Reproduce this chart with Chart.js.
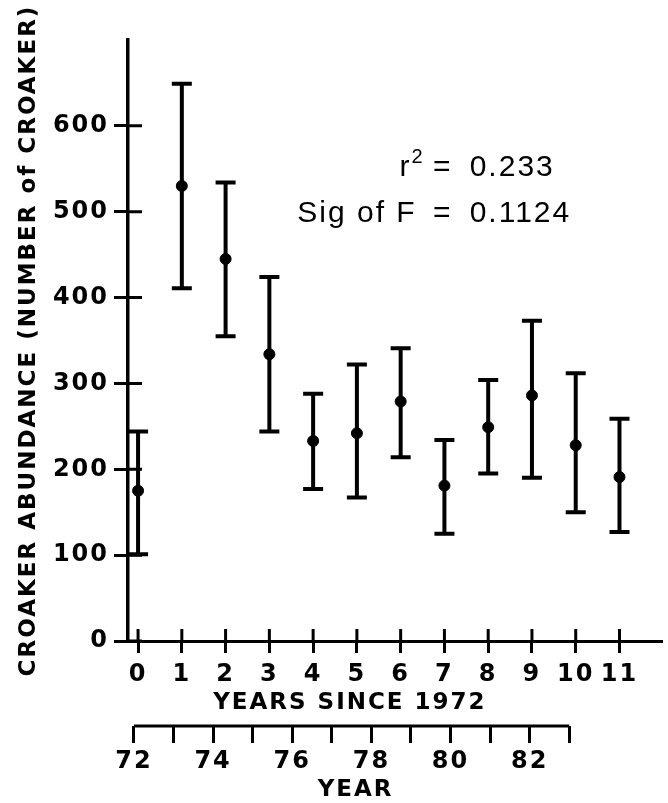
<!DOCTYPE html>
<html>
<head>
<meta charset="utf-8">
<script src="https://cdn.jsdelivr.net/npm/chart.js@4.4.1/dist/chart.umd.min.js"></script>
<style>
  html, body { margin: 0; padding: 0; background: #fff; }
</style>
</head>
<body>
<canvas id="myChart" width="668" height="803"></canvas>
<script>
// datos
const yearsSince = [0, 1, 2, 3, 4, 5, 6, 7, 8, 9, 10, 11];
const abundance  = [175, 530, 445, 334, 233, 242, 279, 181, 249, 286, 228, 191];
const upperBar   = [244, 649, 534, 424, 288, 322, 341, 234, 304, 373, 312, 259];
const lowerBar   = [101, 411, 355, 244, 177, 167, 214, 125, 195, 190, 150, 127];
const yTicks     = [0, 100, 200, 300, 400, 500, 600];
const yearTicks  = [72, 73, 74, 75, 76, 77, 78, 79, 80, 81, 82, 83];
const yearLabels = ['72', '', '74', '', '76', '', '78', '', '80', '', '82', ''];

const negro = '#000';
const fuente = 'DejaVu Sans';

// barras de error, marcas que cruzan los ejes y textos
const extras = {
    id: 'extras',
    beforeDraw(chart) {
        chart.ctx.letterSpacing = '2px';
    },
    beforeDatasetsDraw(chart) {
        const ctx = chart.ctx;
        const x = chart.scales.x, y = chart.scales.y;
        ctx.save();
        ctx.strokeStyle = negro;
        ctx.lineWidth = 4;
        for (let i = 0; i < yearsSince.length; i++) {
            const px = x.getPixelForValue(yearsSince[i]);
            const yt = y.getPixelForValue(upperBar[i]);
            const yb = y.getPixelForValue(lowerBar[i]);
            ctx.beginPath();
            ctx.moveTo(px, yt); ctx.lineTo(px, yb);
            ctx.moveTo(px - 10, yt); ctx.lineTo(px + 10, yt);
            ctx.moveTo(px - 10, yb); ctx.lineTo(px + 10, yb);
            ctx.stroke();
        }
        ctx.restore();
    },
    afterDraw(chart) {
        const ctx = chart.ctx;
        const x = chart.scales.x, y = chart.scales.y, x2 = chart.scales.x2;
        ctx.save();
        ctx.strokeStyle = negro;
        ctx.lineWidth = 3;
        ctx.beginPath();
        // parte interior de las marcas
        yearsSince.forEach(v => {
            const px = x.getPixelForValue(v);
            ctx.moveTo(px, x.top); ctx.lineTo(px, x.top - 12);
        });
        yTicks.forEach(v => {
            const py = y.getPixelForValue(v);
            ctx.moveTo(y.right, py); ctx.lineTo(y.right + 14, py);
        });
        // eje de años
        ctx.moveTo(x2.getPixelForValue(yearTicks[0]), x2.top);
        ctx.lineTo(x2.getPixelForValue(yearTicks[yearTicks.length - 1]), x2.top);
        ctx.stroke();

        // titulos de los ejes x
        ctx.fillStyle = negro;
        ctx.font = 'bold 23px "DejaVu Sans"';
        ctx.textAlign = 'center';
        ctx.textBaseline = 'middle';
        ctx.fillText('YEARS SINCE 1972', x.getPixelForValue(4.84), x.bottom - 23);
        ctx.fillText('YEAR', x2.getPixelForValue(77.6), x2.bottom - 13);

        // texto r2 y Sig of F
        const eqX = x.getPixelForValue(6.96);
        const y1 = y.getPixelForValue(542);
        const y2 = y.getPixelForValue(488);
        ctx.textBaseline = 'alphabetic';
        ctx.font = '30px "Liberation Sans"';
        ctx.textAlign = 'center';
        ctx.fillText('=', eqX, y1);
        ctx.fillText('=', eqX, y2);
        ctx.textAlign = 'left';
        ctx.fillText('0.233', eqX + 27, y1);
        ctx.fillText('0.1124', eqX + 27, y2);
        ctx.textAlign = 'right';
        ctx.fillText('Sig of F', eqX - 26, y2);
        ctx.font = '20px "Liberation Sans"';
        const w2 = ctx.measureText('2').width;
        ctx.fillText('2', eqX - 18, y1 - 13);
        ctx.font = '30px "Liberation Sans"';
        ctx.fillText('r', eqX - 18 - w2, y1);
        ctx.restore();
    }
};

const ctx = document.getElementById('myChart').getContext('2d');
const chart = new Chart(ctx, {
    type: 'scatter',
    data: {
        datasets: [{
            label: 'Croaker',
            data: yearsSince.map((v, i) => ({ x: v, y: abundance[i] })),
            backgroundColor: negro,
            borderColor: negro,
            pointRadius: 5.5,
            showLine: false
        }]
    },
    options: {
        responsive: false,
        animation: false,
        layout: { padding: { top: 40, right: 6, left: 0, bottom: 0 } },
        plugins: {
            legend: { display: false },
            tooltip: { enabled: false }
        },
        scales: {
            x: {
                type: 'linear',
                position: 'bottom',
                weight: 0,
                min: -0.23,
                max: 11.96,
                afterBuildTicks: s => { s.ticks = yearsSince.map(v => ({ value: v })); },
                afterFit: s => { s.height = 85; },
                border: { display: true, color: negro, width: 3 },
                grid: { drawOnChartArea: false, drawTicks: true, tickLength: 12, color: negro, lineWidth: 3 },
                ticks: { color: negro, font: { family: fuente, size: 24, weight: 'bold' }, padding: 7, maxRotation: 0, autoSkip: false }
            },
            x2: {
                type: 'linear',
                position: 'bottom',
                weight: 1,
                min: 71.85,
                max: 85.33,
                afterBuildTicks: s => { s.ticks = yearTicks.map(v => ({ value: v })); },
                afterFit: s => { s.height = 77; },
                border: { display: false },
                grid: { drawOnChartArea: false, drawTicks: true, tickLength: 17, color: negro, lineWidth: 3 },
                ticks: {
                    color: negro, font: { family: fuente, size: 24, weight: 'bold' }, padding: 4, maxRotation: 0, autoSkip: false,
                    callback: (v, i) => yearLabels[i]
                }
            },
            y: {
                type: 'linear',
                position: 'left',
                min: 0,
                max: 700,
                afterBuildTicks: s => { s.ticks = yTicks.map(v => ({ value: v })); },
                afterFit: s => { s.width = 128; },
                border: { display: true, color: negro, width: 3.5 },
                grid: { drawOnChartArea: false, drawTicks: true, tickLength: 14, color: negro, lineWidth: 3 },
                ticks: { color: negro, font: { family: fuente, size: 24, weight: 'bold' }, padding: 5 },
                title: { display: true, text: 'CROAKER ABUNDANCE (NUMBER of CROAKER)', color: negro, font: { family: fuente, size: 23, weight: 'bold' }, padding: { top: 15, bottom: 0 } }
            }
        }
    },
    plugins: [extras]
});
</script>
</body>
</html>
